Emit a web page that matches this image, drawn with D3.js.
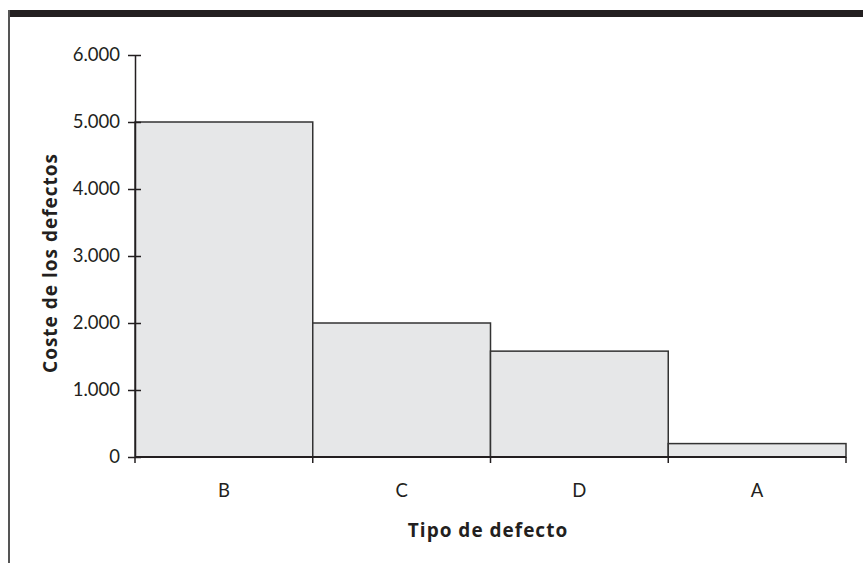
<!DOCTYPE html>
<html>
<head>
<meta charset="utf-8">
<script src="https://cdn.jsdelivr.net/npm/d3@7"></script>
<style>
  body { margin: 0; background: #fff; }
  svg { display: block; font-family: Lato, "Open Sans", sans-serif; }
</style>
</head>
<body>
<svg width="863" height="563"></svg>
<script>
// data
const categories = ["B", "C", "D", "A"];
const costs = [5000, 2000, 1580, 200];
const yTicks = [0, 1000, 2000, 3000, 4000, 5000, 6000];
const yTickLabels = ["0", "1.000", "2.000", "3.000", "4.000", "5.000", "6.000"];

const svg = d3.select("svg"),
    width = +svg.attr("width"),
    height = +svg.attr("height");

const margin = { left: 135, right: 17, top: 55, bottom: 106 };

// frame: thick top rule and thin left rule
svg.append("rect")
    .attr("x", 8).attr("y", 10)
    .attr("width", width - 8).attr("height", 7)
    .attr("fill", "#231f20");
svg.append("line")
    .attr("x1", 9).attr("x2", 9)
    .attr("y1", 10).attr("y2", height)
    .attr("stroke", "#555").attr("stroke-width", 2);

const x = d3.scaleBand()
    .domain(categories)
    .range([margin.left, width - margin.right])
    .padding(0);

const y = d3.scaleLinear()
    .domain([0, 6000])
    .range([height - margin.bottom, margin.top]);

// bars
svg.append("g")
    .selectAll("rect")
    .data(categories)
    .enter().append("rect")
    .attr("x", d => x(d))
    .attr("y", (d, i) => y(costs[i]))
    .attr("width", x.bandwidth())
    .attr("height", (d, i) => y(0) - y(costs[i]))
    .attr("fill", "#e6e7e8")
    .attr("stroke", "#333")
    .attr("stroke-width", 1.5);

// y axis
const yAxis = svg.append("g")
    .attr("transform", `translate(${margin.left},0)`)
    .call(d3.axisLeft(y)
        .tickValues(yTicks)
        .tickFormat((d, i) => yTickLabels[i])
        .tickSizeInner(7)
        .tickSizeOuter(0)
        .tickPadding(8));
yAxis.select(".domain").attr("stroke", "#231f20").attr("stroke-width", 1.5);
yAxis.selectAll(".tick line")
    .attr("x1", 6)
    .attr("stroke", "#231f20").attr("stroke-width", 1.5);
yAxis.selectAll(".tick text")
    .attr("font-size", 18.5)
    .attr("fill", "#231f20")
    .style("font-family", "Lato, sans-serif");

// x axis: ticks at bar edges, labels centered
const xBase = svg.append("g")
    .attr("transform", `translate(0,${y(0)})`);
xBase.append("line")
    .attr("x1", margin.left).attr("x2", width - margin.right)
    .attr("stroke", "#231f20").attr("stroke-width", 2);
const edges = categories.map(d => x(d)).concat([x(categories[categories.length - 1]) + x.bandwidth()]);
xBase.selectAll(".edge")
    .data(edges)
    .enter().append("line")
    .attr("class", "edge")
    .attr("x1", d => d).attr("x2", d => d)
    .attr("y1", 0).attr("y2", 6)
    .attr("stroke", "#231f20").attr("stroke-width", 1.5);
xBase.selectAll(".cat")
    .data(categories)
    .enter().append("text")
    .attr("class", "cat")
    .attr("x", d => x(d) + x.bandwidth() / 2)
    .attr("y", 40)
    .attr("text-anchor", "middle")
    .attr("font-size", 18.5)
    .attr("fill", "#231f20")
    .text(d => d);

// axis titles
svg.append("text")
    .attr("x", 488)
    .attr("y", 537)
    .attr("text-anchor", "middle")
    .attr("font-size", 19)
    .attr("font-weight", "bold")
    .attr("letter-spacing", 1)
    .attr("fill", "#231f20")
    .style("font-family", "'Open Sans', sans-serif")
    .text("Tipo de defecto");

svg.append("text")
    .attr("transform", `translate(57,263) rotate(-90)`)
    .attr("text-anchor", "middle")
    .attr("font-size", 19)
    .attr("font-weight", "bold")
    .attr("letter-spacing", 1)
    .attr("fill", "#231f20")
    .style("font-family", "'Open Sans', sans-serif")
    .text("Coste de los defectos");
</script>
</body>
</html>
